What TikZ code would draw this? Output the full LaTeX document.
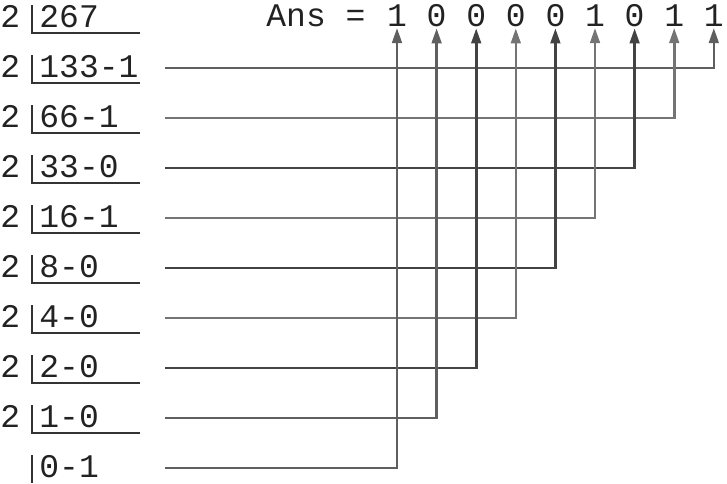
\documentclass[tikz,border=0pt]{standalone}
\usepackage{fontspec}
\setmonofont{Liberation Mono}
\usetikzlibrary{arrows.meta}
\definecolor{Ink}{HTML}{222222}
\definecolor{WireDark}{HTML}{434343}
\definecolor{WireMid}{HTML}{5F5F5F}
\definecolor{WireLight}{HTML}{747474}
\definecolor{Rule}{HTML}{333333}

\tikzset{
  numtext/.style={anchor=base west,inner sep=0pt,text=Ink,font=\ttfamily\fontsize{16.5}{20}\selectfont},
  bittext/.style={anchor=base,inner sep=0pt,outer sep=1pt,text=Ink,font=\ttfamily\fontsize{16.5}{20}\selectfont},
  divrule/.style={Rule,line width=0.7pt},
  wire/.style={line width=1.3pt,-{Triangle[length=7.5pt,width=4.8pt]}}
}

\begin{document}
\begin{tikzpicture}[x=0.5pt,y=-0.5pt]
\useasboundingbox (0,0) rectangle (727,483);
% answer row
\node[numtext] (ans) at (266,26) {Ans =};
\node[bittext] (b1) at (397.0,26) {1};
\node[bittext] (b2) at (436.6,26) {0};
\node[bittext] (b3) at (476.2,26) {0};
\node[bittext] (b4) at (515.8,26) {0};
\node[bittext] (b5) at (555.4,26) {0};
\node[bittext] (b6) at (595.0,26) {1};
\node[bittext] (b7) at (634.6,26) {0};
\node[bittext] (b8) at (674.2,26) {1};
\node[bittext] (b9) at (713.8,26) {1};
% divisors
\node[numtext] (d0) at (0,27) {2};
\node[numtext] (d1) at (0,77) {2};
\node[numtext] (d2) at (0,127) {2};
\node[numtext] (d3) at (0,177) {2};
\node[numtext] (d4) at (0,227) {2};
\node[numtext] (d5) at (0,277) {2};
\node[numtext] (d6) at (0,327) {2};
\node[numtext] (d7) at (0,377) {2};
\node[numtext] (d8) at (0,427) {2};
% quotients and remainders
\node[numtext] (q0) at (39,27) {267};
\node[numtext] (q1) at (39,77) {133-1};
\node[numtext] (q2) at (39,127) {66-1};
\node[numtext] (q3) at (39,177) {33-0};
\node[numtext] (q4) at (39,227) {16-1};
\node[numtext] (q5) at (39,277) {8-0};
\node[numtext] (q6) at (39,327) {4-0};
\node[numtext] (q7) at (39,377) {2-0};
\node[numtext] (q8) at (39,427) {1-0};
\node[numtext] (q9) at (39,477) {0-1};
% division brackets
\draw[divrule] (32,5) -- (32,33) -- (140,33);
\draw[divrule] (32,55) -- (32,83) -- (140,83);
\draw[divrule] (32,105) -- (32,133) -- (140,133);
\draw[divrule] (32,155) -- (32,183) -- (140,183);
\draw[divrule] (32,205) -- (32,233) -- (140,233);
\draw[divrule] (32,255) -- (32,283) -- (140,283);
\draw[divrule] (32,305) -- (32,333) -- (140,333);
\draw[divrule] (32,355) -- (32,383) -- (140,383);
\draw[divrule] (32,405) -- (32,433) -- (140,433);
\draw[divrule] (32,455) -- (32,483);
% remainder wires
\coordinate (s1) at (165,68);
\coordinate (s2) at (165,118);
\coordinate (s3) at (165,168);
\coordinate (s4) at (165,218);
\coordinate (s5) at (165,268);
\coordinate (s6) at (165,318);
\coordinate (s7) at (165,368);
\coordinate (s8) at (165,418);
\coordinate (s9) at (165,468);
\draw[wire,WireMid] (s1) -| (b9.south);
\draw[wire,WireLight] (s2) -| (b8.south);
\draw[wire,WireDark] (s3) -| (b7.south);
\draw[wire,WireLight] (s4) -| (b6.south);
\draw[wire,WireDark] (s5) -| (b5.south);
\draw[wire,WireLight] (s6) -| (b4.south);
\draw[wire,WireDark] (s7) -| (b3.south);
\draw[wire,WireMid] (s8) -| (b2.south);
\draw[wire,WireMid] (s9) -| (b1.south);
\end{tikzpicture}
\end{document}
